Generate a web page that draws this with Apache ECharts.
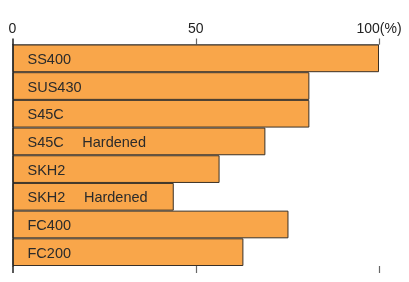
<!DOCTYPE html>
<html>
<head>
<meta charset="utf-8">
<script src="https://cdn.jsdelivr.net/npm/echarts@6/dist/echarts.min.js"></script>
<style>
  html, body { margin: 0; padding: 0; background: #fff; }
  #chart { width: 409px; height: 282px; }
</style>
</head>
<body>
<div id="chart"></div>
<script>
// materials, top to bottom
const categories = [
  "SS400",
  "SUS430",
  "S45C",
  "S45C\u3000 Hardened",
  "SKH2",
  "SKH2\u3000 Hardened",
  "FC400",
  "FC200"
];
const values = [100, 81, 81, 69, 56.5, 44, 75.3, 63];
const tickValues = [50, 100];

const font = "'Liberation Sans', Arial, 'Noto Sans CJK JP', sans-serif";
const chart = echarts.init(document.getElementById("chart"));

const option = {
  animation: false,
  grid: { left: 12.5, right: 30, top: 44.5, bottom: 16 },
  xAxis: [
    {
      type: "value",
      position: "top",
      min: 0,
      max: 100,
      interval: 50,
      splitLine: { show: false },
      axisLine: { show: true, lineStyle: { color: "#8a8a8a", width: 1 } },
      axisTick: { show: true, inside: false, length: 6, customValues: tickValues, lineStyle: { color: "#666", width: 1.2 } },
      axisLabel: {
        margin: 8,
        color: "#222",
        fontFamily: font,
        fontSize: 14,
        formatter(v) {
          return v === 100 ? "100(%)" : String(v);
        }
      }
    },
    {
      type: "value",
      position: "bottom",
      min: 0,
      max: 100,
      interval: 50,
      splitLine: { show: false },
      axisLine: { show: false },
      axisTick: { show: true, length: 7, customValues: tickValues, lineStyle: { color: "#666", width: 1.2 } },
      axisLabel: { show: false }
    },
    {
      // dark extension of the zero line above the grid
      type: "value",
      position: "top",
      min: 0,
      max: 100,
      splitLine: { show: false },
      axisLine: { show: false },
      axisTick: { show: true, length: 6, customValues: [0], lineStyle: { color: "#222", width: 1.5 } },
      axisLabel: { show: false }
    },
    {
      type: "value",
      position: "bottom",
      min: 0,
      max: 100,
      splitLine: { show: false },
      axisLine: { show: false },
      axisTick: { show: true, length: 7, customValues: [0], lineStyle: { color: "#222", width: 1.5 } },
      axisLabel: { show: false }
    }
  ],
  yAxis: {
    type: "category",
    inverse: true,
    data: categories,
    axisLine: { show: true, lineStyle: { color: "#222", width: 1.5 } },
    axisTick: { show: false },
    axisLabel: { show: false },
    z: 5
  },
  series: [
    {
      type: "bar",
      xAxisIndex: 0,
      data: values,
      barWidth: "100%",
      itemStyle: { color: "#F9A64A", borderColor: "#3a3026", borderWidth: 1 },
      label: {
        show: true,
        position: "insideLeft",
        distance: 15,
        offset: [0, 1.5],
        color: "#2b2b2b",
        fontFamily: font,
        fontSize: 14.5,
        formatter(p) {
          return p.name;
        }
      }
    }
  ]
};

chart.setOption(option);
</script>
</body>
</html>
